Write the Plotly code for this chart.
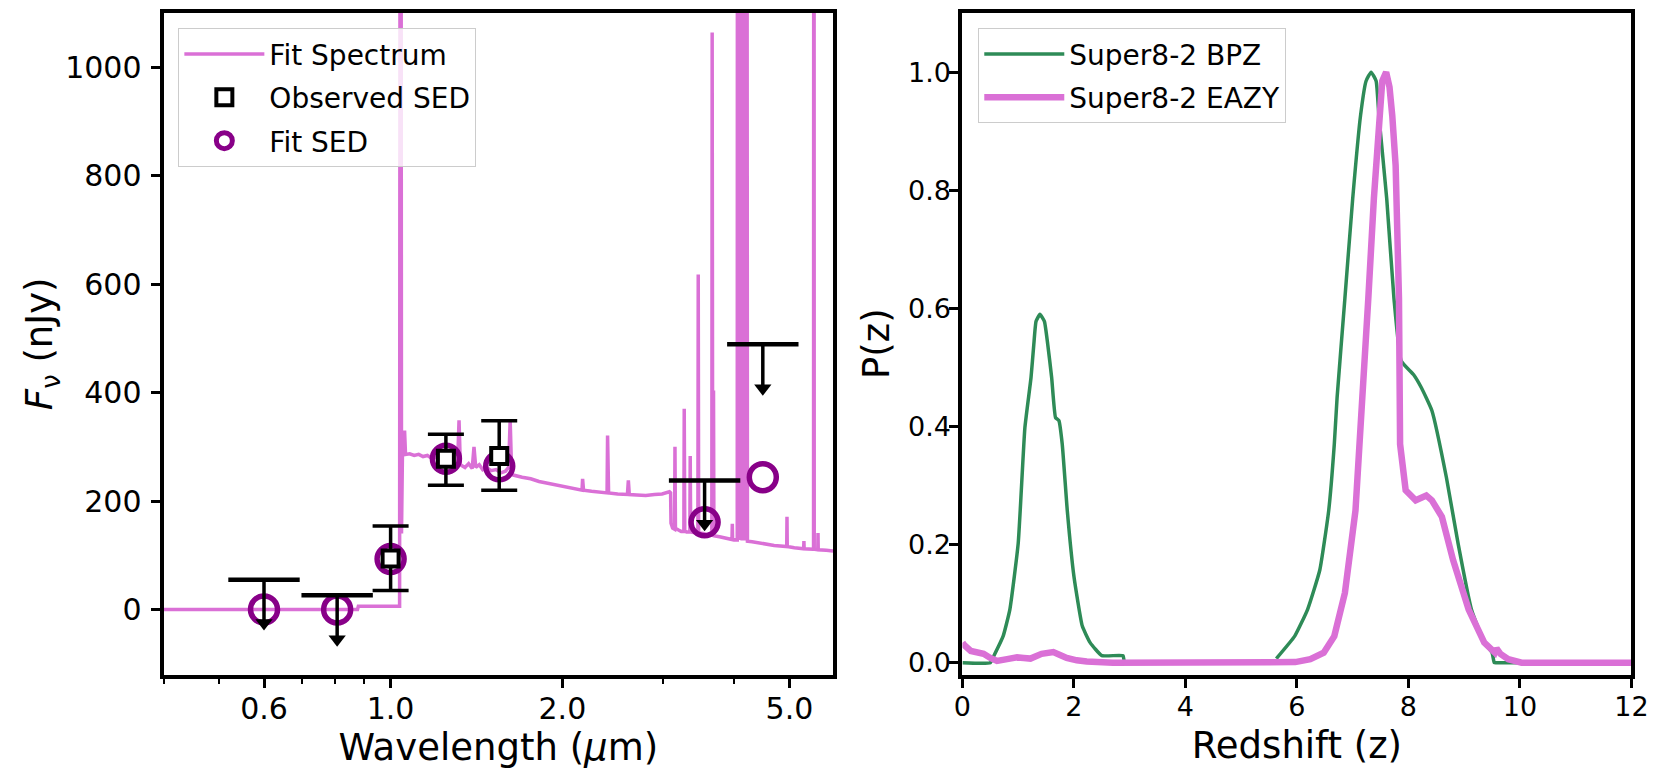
import plotly.graph_objects as go
import math

# ---------------- Left panel data ----------------
spec_lam = [0.40, 0.875, 0.878, 1.037, 1.041, 1.045, 1.049, 1.053, 1.058, 1.062, 1.08, 1.10, 1.12, 1.14,
            1.16, 1.18, 1.20, 1.215, 1.222, 1.228, 1.25, 1.27, 1.29, 1.31, 1.318, 1.325, 1.35, 1.37,
            1.39, 1.40, 1.41, 1.43, 1.45, 1.47, 1.50, 1.53, 1.56, 1.59, 1.61, 1.62, 1.63, 1.64, 1.70,
            1.76, 1.82, 1.88, 1.94, 2.01, 2.08, 2.165, 2.17, 2.178, 2.25, 2.33, 2.395, 2.40, 2.41,
            2.50, 2.60, 2.61, 2.62, 2.70, 2.80, 2.90, 2.99, 3.08, 3.095, 3.10, 3.12, 3.145, 3.15,
            3.156, 3.20, 3.23, 3.265, 3.27, 3.277, 3.30, 3.345, 3.35, 3.356, 3.40, 3.455, 3.46,
            3.466, 3.53, 3.58, 3.655, 3.66, 3.668, 3.675, 3.68, 3.686, 3.77, 3.87, 3.965, 3.97,
            3.975, 4.04, 4.05, 4.055, 4.07, 4.085, 4.10, 4.115, 4.13, 4.145, 4.16, 4.175, 4.19,
            4.205, 4.22, 4.30, 4.50, 4.70, 4.945, 4.95, 4.955, 5.10, 5.295, 5.30, 5.305, 5.50,
            5.51, 5.518, 5.525, 5.605, 5.61, 5.615, 5.80, 5.96]
spec_flux = [0, 0, 6, 6, 3000, 140, 290, 300, 330, 286, 287, 284, 286, 282,
             284, 279, 281, 276, 300, 274, 272, 268, 270, 265, 349, 267, 262, 269,
             260, 300, 262, 267, 258, 262, 256, 258, 252, 255, 262, 350, 250, 248, 244,
             241, 236, 233, 229, 226, 223, 220, 241, 220, 218, 216, 215, 321, 215,
             213, 212, 238, 212, 211, 210, 212, 213, 217, 215, 159, 150, 148, 300,
             150, 146, 144, 144, 370, 145, 143, 143, 283, 143, 142, 141, 618,
             141, 140, 138, 137, 1064, 137, 137, 404, 136, 134, 131, 129, 158,
             129, 128, 128, 3000, 128, 3000, 128, 3000, 127, 3000, 127, 3000, 127,
             3000, 126, 125, 121, 118, 116, 171, 116, 114, 112, 126, 112, 111,
             111, 3000, 111, 110, 141, 110, 109, 108]

phot_lam = [1.0, 1.25, 1.55]
phot_flux = [94, 278, 283]
phot_err_hi = [60, 45, 65]
phot_err_lo = [59, 49, 63]

ul_lam = [0.60, 0.806, 3.55, 4.49]
ul_cap = [55, 26, 238, 489]
ul_tip = [-36, -66, 147, 397]

fit_lam = [0.60, 0.806, 1.0, 1.25, 1.55, 3.55, 4.49]
fit_flux = [0, 0, 93, 278, 264, 161, 244]

# ---------------- Right panel data ----------------
bpz_z = [0.0, 0.50, 0.56, 0.73, 0.85, 1.00, 1.12, 1.23, 1.28, 1.32, 1.39, 1.47, 1.53, 1.60, 1.67, 1.73,
         1.79, 1.88, 2.00, 2.15, 2.29, 2.50, 2.88, 2.90, 2.93]
bpz_p = [0.0, 0.0, 0.011, 0.045, 0.09, 0.202, 0.398, 0.483, 0.539, 0.578, 0.590, 0.578, 0.539, 0.483, 0.415, 0.41,
         0.37, 0.258, 0.146, 0.062, 0.034, 0.012, 0.012, 0.003, 0.0]
bpz_z2 = [5.63, 5.96, 6.19, 6.41, 6.57, 6.67, 6.72, 6.86, 7.00, 7.14, 7.24, 7.33, 7.42, 7.47, 7.61, 7.74,
          7.87, 8.09, 8.23, 8.42, 8.68, 8.89, 9.13, 9.36, 9.50, 9.54, 9.60, 12.0]
bpz_p2 = [0.007, 0.045, 0.09, 0.157, 0.258, 0.37, 0.449, 0.617, 0.786, 0.926, 0.985, 1.0, 0.985, 0.926, 0.786, 0.617,
          0.511, 0.488, 0.466, 0.427, 0.314, 0.202, 0.09, 0.034, 0.017, 0.0, 0.0, 0.0]

eazy_z = [0.0, 0.03, 0.15, 0.26, 0.38, 0.50, 0.62, 0.80, 0.98, 1.10, 1.22, 1.42, 1.63, 1.75, 1.87,
          2.05, 2.23, 2.70, 5.00, 5.97, 6.24, 6.48, 6.67, 6.86, 7.05, 7.17, 7.28, 7.38, 7.47,
          7.53, 7.60, 7.66, 7.71, 7.77, 7.83, 7.85, 7.95, 8.13, 8.32, 8.42, 8.60, 8.80, 9.08, 9.36, 9.55,
          9.58, 9.65, 9.79, 10.03, 12.0]
eazy_p = [0.034, 0.03, 0.02, 0.018, 0.015, 0.008, 0.003, 0.006, 0.009, 0.008, 0.007, 0.015, 0.018, 0.013,
          0.008, 0.004, 0.002, 0.0, 0.0, 0.001, 0.006, 0.017, 0.045, 0.118, 0.258, 0.427, 0.617, 0.786,
          0.926, 0.985, 1.0, 0.975, 0.926, 0.842, 0.617, 0.37, 0.292, 0.275, 0.283, 0.275, 0.247, 0.174, 0.09, 0.034,
          0.017, 0.024, 0.015, 0.006, 0.0, 0.0]

ORCHID = "#DA70D6"
PURPLE = "#880088"
GREEN = "#2E8B57"
FONT = "DejaVu Sans"

fig = go.Figure()

# Fit spectrum
fig.add_trace(go.Scatter(x=spec_lam, y=spec_flux, mode="lines", name="Fit Spectrum",
                         line=dict(color=ORCHID, width=3.5), xaxis="x", yaxis="y",
                         legend="legend", legendrank=1, legendgroup="a"))

# Fit SED circles
fig.add_trace(go.Scatter(x=fit_lam, y=fit_flux, mode="markers", name="Fit SED",
                         marker=dict(symbol="circle-open", size=27, color=PURPLE,
                                     line=dict(width=5.5, color=PURPLE)),
                         xaxis="x", yaxis="y", legend="legend", legendrank=3, legendgroup="c"))

# Observed SED with error bars
fig.add_trace(go.Scatter(x=phot_lam, y=phot_flux, mode="markers", name="Observed SED",
                         marker=dict(symbol="square", size=16, color="white",
                                     line=dict(width=4, color="black")),
                         error_y=dict(type="data", array=phot_err_hi, arrayminus=phot_err_lo,
                                      color="black", thickness=3.5, width=18, symmetric=False),
                         xaxis="x", yaxis="y", legend="legend", legendrank=2, legendgroup="b"))

# Upper limits: stems
stem_x, stem_y = [], []
for lx, c, t in zip(ul_lam, ul_cap, ul_tip):
    stem_x += [lx, lx, None]
    stem_y += [c, t + 12, None]
fig.add_trace(go.Scatter(x=stem_x, y=stem_y, mode="lines", line=dict(color="black", width=3.5),
                         showlegend=False, xaxis="x", yaxis="y", hoverinfo="skip"))
# caps
fig.add_trace(go.Scatter(x=ul_lam, y=ul_cap, mode="markers",
                         marker=dict(symbol="line-ew", size=51, line=dict(width=4.5, color="black")),
                         showlegend=False, xaxis="x", yaxis="y", hoverinfo="skip"))
# arrow heads (triangle centred just above the tip)
head_y = [t + 11 for t in ul_tip]
fig.add_trace(go.Scatter(x=ul_lam, y=head_y, mode="markers",
                         marker=dict(symbol="triangle-down", size=15, color="black",
                                     line=dict(width=0)),
                         showlegend=False, xaxis="x", yaxis="y", hoverinfo="skip"))

# Right panel
fig.add_trace(go.Scatter(x=bpz_z + [None] + bpz_z2, y=bpz_p + [None] + bpz_p2, mode="lines",
                         name="Super8-2 BPZ", line=dict(color=GREEN, width=3.5, shape="spline",
                                                         smoothing=0.4),
                         xaxis="x2", yaxis="y2", legend="legend2", connectgaps=False,
                         legendgroup="d"))
fig.add_trace(go.Scatter(x=eazy_z, y=eazy_p, mode="lines", name="Super8-2 EAZY",
                         line=dict(color=ORCHID, width=6.5),
                         xaxis="x2", yaxis="y2", legend="legend2", legendgroup="e"))

axis_common = dict(showgrid=False, zeroline=False, showline=True, linecolor="black", linewidth=4,
                   mirror=True, ticks="outside", ticklen=9, tickwidth=3, tickcolor="black")

TITLE_SIZE = 37
LEG_FONT = dict(family=FONT, size=28, color="black")
TICK_L = dict(family=FONT, size=30, color="black")
TICK_R = dict(family=FONT, size=27, color="black")

fig.update_layout(
    width=1675, height=774,
    margin=dict(l=0, r=0, t=0, b=0),
    paper_bgcolor="white", plot_bgcolor="white",
    font=dict(family=FONT, color="black"),
    xaxis=dict(axis_common, type="log", range=[math.log10(0.4), math.log10(5.96)],
               domain=[0.0937, 0.4997], anchor="y", tickfont=TICK_L, ticklabelstandoff=-5,
               tickvals=[0.6, 1.0, 2.0, 5.0], ticktext=["0.6", "1.0", "2.0", "5.0"],
               minor=dict(tickvals=[0.4, 0.5, 0.7, 0.8, 0.9, 3.0, 4.0], ticks="outside",
                          ticklen=5, tickwidth=2, tickcolor="black"),
               title=dict(text="Wavelength (<i>μ</i>m)", font=dict(family=FONT, size=TITLE_SIZE),
                          standoff=9)),
    yaxis=dict(axis_common, range=[-120, 1100], domain=[0.124, 0.983], anchor="x",
               tickfont=TICK_L, ticklabelstandoff=3,
               tickvals=[0, 200, 400, 600, 800, 1000],
               title=dict(text="<i>F</i><sub>ν</sub> (nJy)", font=dict(family=FONT, size=TITLE_SIZE),
                          standoff=2)),
    xaxis2=dict(axis_common, range=[0, 12], domain=[0.5782, 0.9839], anchor="y2",
                tickfont=TICK_R, ticklabelstandoff=-4,
                tickvals=[0, 2, 4, 6, 8, 10, 12],
                title=dict(text="Redshift (z)", font=dict(family=FONT, size=TITLE_SIZE), standoff=12)),
    yaxis2=dict(axis_common, range=[-0.02, 1.1], domain=[0.124, 0.983], anchor="x2",
                tickfont=TICK_R, ticklabelstandoff=-7,
                tickvals=[0, 0.2, 0.4, 0.6, 0.8, 1.0], tickformat=".1f"),
    annotations=[dict(text="P(z)", xref="paper", yref="paper", x=0.5265, y=0.5535,
                      xanchor="center", yanchor="middle", textangle=-90, showarrow=False,
                      font=dict(family=FONT, size=TITLE_SIZE, color="black"))],
    legend=dict(x=0.1027, y=0.9634, xanchor="left", yanchor="top",
                bgcolor="rgba(255,255,255,0.8)", bordercolor="#cccccc", borderwidth=1,
                font=LEG_FONT, itemwidth=80, traceorder="grouped", tracegroupgap=4),
    legend2=dict(x=0.5878, y=0.9634, xanchor="left", yanchor="top",
                 bgcolor="rgba(255,255,255,0.8)", bordercolor="#cccccc", borderwidth=1,
                 font=LEG_FONT, itemwidth=80, traceorder="grouped", tracegroupgap=4),
)

fig.write_html("out.html")
